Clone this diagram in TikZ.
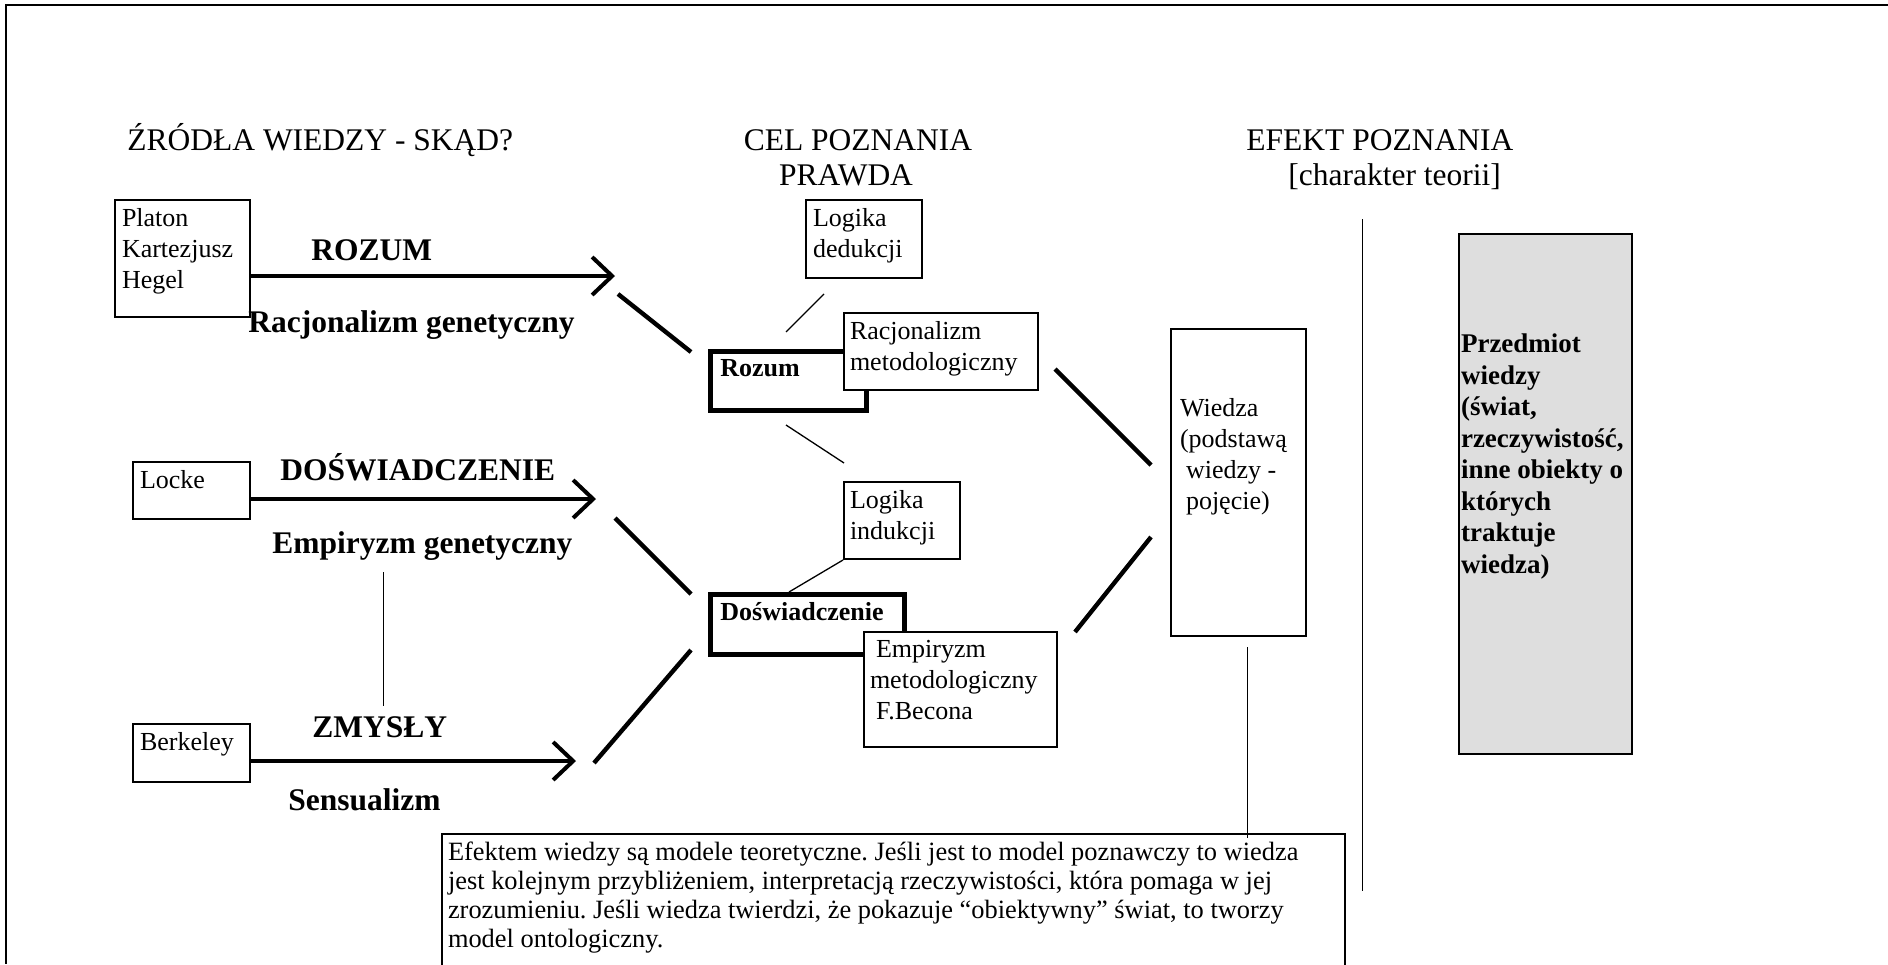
\documentclass[tikz,border=0pt]{standalone}
\usepackage{fontspec}
\setmainfont{Liberation Serif}
\frenchspacing
\usetikzlibrary{arrows.meta}
\newcommand{\hdfont}{\fontsize{15.75}{17.5}\selectfont}
\newcommand{\bxfont}{\fontsize{13}{15.5}\selectfont}
\newcommand{\boxtxt}[3]{\parbox[t][#2][t]{#1}{#3}}
\tikzset{
  srcbox/.style={draw,line width=1pt,anchor=north west,inner xsep=3.5pt,inner ysep=4pt,fill=white,font=\bxfont},
  keybox/.style={srcbox,line width=2.4pt,inner xsep=5pt,font=\bxfont\bfseries},
  hd/.style={anchor=base west,inner sep=0pt,font=\hdfont},
  lbl/.style={hd,font=\hdfont\bfseries},
  flow/.style={line width=2pt,-{Straight Barb[length=10pt,width=19pt]}},
  fat/.style={line width=2.2pt},
  thin/.style={line width=0.65pt}
}

\begin{document}
\begin{tikzpicture}[x=0.5pt,y=-0.5pt]
\useasboundingbox (0,0) rectangle (1888,964);
\draw[line width=1.2pt] (1888,5) -- (6,5) -- (6,964);
% headings
\node (h1) [hd] at (127,150) {ŹRÓDŁA WIEDZY - SKĄD?};
\node (h2) [hd,anchor=base] at (858,150) {CEL POZNANIA};
\node (h2b) [hd,anchor=base] at (846,185) {PRAWDA};
\node (h3) [hd] at (1246,150) {EFEKT POZNANIA};
\node (h3b) [hd] at (1288,185) {[charakter teorii]};
%
\node (platon) [srcbox] at (114,199) {\boxtxt{60.5pt}{50.5pt}{Platon\\Kartezjusz\\Hegel}};
\node (locke) [srcbox] at (132,461) {\boxtxt{51.5pt}{20.5pt}{Locke}};
\node (berk) [srcbox] at (132,723) {\boxtxt{51.5pt}{21pt}{Berkeley}};
%
\coordinate (tipR) at (615,276);
\coordinate (tipD) at (596,499);
\coordinate (tipZ) at (576,761);
\draw[flow] (platon.east |- tipR) -- (tipR);
\draw[flow] (locke.east |- tipD) -- (tipD);
\draw[flow] (berk.east |- tipZ) -- (tipZ);
%
\node (lroz) [lbl] at (311,260) {ROZUM};
\node (lracg) [lbl] at (248,332) {Racjonalizm genetyczny};
\node (ldos) [lbl] at (280,480) {DOŚWIADCZENIE};
\node (lempg) [lbl] at (272,553) {Empiryzm genetyczny};
\node (lzmy) [lbl] at (312,737) {ZMYSŁY};
\node (lsen) [lbl] at (288,810) {Sensualizm};
%
\node (ded) [srcbox] at (805,199) {\boxtxt{51pt}{31pt}{Logika\\dedukcji}};
\node (roz) [keybox] at (708,349) {\boxtxt{68pt}{21.5pt}{Rozum}};
\node (racm) [srcbox,inner xsep=3pt] at (843,312) {\boxtxt{91pt}{30.5pt}{Racjonalizm\\metodologiczny}};
\node (ind) [srcbox,inner xsep=3pt] at (843,481) {\boxtxt{52pt}{30.5pt}{Logika\\indukcji}};
\node (dosw) [keybox] at (708,592) {\boxtxt{87pt}{22pt}{Doświadczenie}};
\node (empm) [srcbox,inner xsep=3pt] at (863,631) {\boxtxt{90.5pt}{49.5pt}{\hspace*{3pt}Empiryzm\\metodologiczny\\\hspace*{3pt}F.Becona}};
\node (wied) [srcbox,inner xsep=4.5pt] at (1170,328) {\boxtxt{58.5pt}{145.5pt}{\vspace*{30.5pt}Wiedza\\(podstawą\\\hspace*{3pt}wiedzy -\\\hspace*{3pt}pojęcie)}};
\node (przed) [srcbox,fill=black!13,inner xsep=1pt,font=\fontsize{13.5}{15.75}\selectfont\bfseries] at (1458,233)
  {\boxtxt{84.5pt}{252pt}{\vspace*{46pt}Przedmiot\\wiedzy\\(świat,\\rzeczywistość,\\inne obiekty o\\których\\traktuje\\wiedza)}};
\node (efekt) [srcbox,inner xsep=3pt,font=\fontsize{13.2}{14.5}\selectfont] at (441,833)
  {\boxtxt{445.5pt}{80pt}{Efektem wiedzy są modele teoretyczne. Jeśli jest to model poznawczy to wiedza\\
  jest kolejnym przybliżeniem, interpretacją rzeczywistości, która pomaga w jej\\
  zrozumieniu. Jeśli wiedza twierdzi, że pokazuje “obiektywny” świat, to tworzy\\
  model ontologiczny.}};
%
\coordinate (r1) at (618,294); \coordinate (r2) at (691,352);
\coordinate (d1) at (615,518); \coordinate (d2) at (691,594);
\coordinate (z1) at (594,763); \coordinate (z2) at (691,650);
\coordinate (m1) at (1055,369); \coordinate (m2) at (1151,465);
\coordinate (e1) at (1075,632); \coordinate (e2) at (1151,537);
\path[fat] (r1) edge (r2) (d1) edge (d2) (z1) edge (z2) (m1) edge (m2) (e1) edge (e2);
%
\coordinate (k1) at (824,294); \coordinate (k2) at (786,332);
\coordinate (n1) at (786,425); \coordinate (n2) at (844,463);
\coordinate (i2) at (789,592);
\coordinate (s1) at (383,572); \coordinate (s2) at (383,706);
\coordinate (w1) at (1247,647); \coordinate (w2) at (1247,838);
\coordinate (v1) at (1362,219); \coordinate (v2) at (1362,891);
\path[thin] (k1) edge (k2) (n1) edge (n2) (ind.south west) edge (i2);
\path[line width=0.5pt] (s1) edge (s2) (w1) edge (w2) (v1) edge (v2);
\end{tikzpicture}
\end{document}
